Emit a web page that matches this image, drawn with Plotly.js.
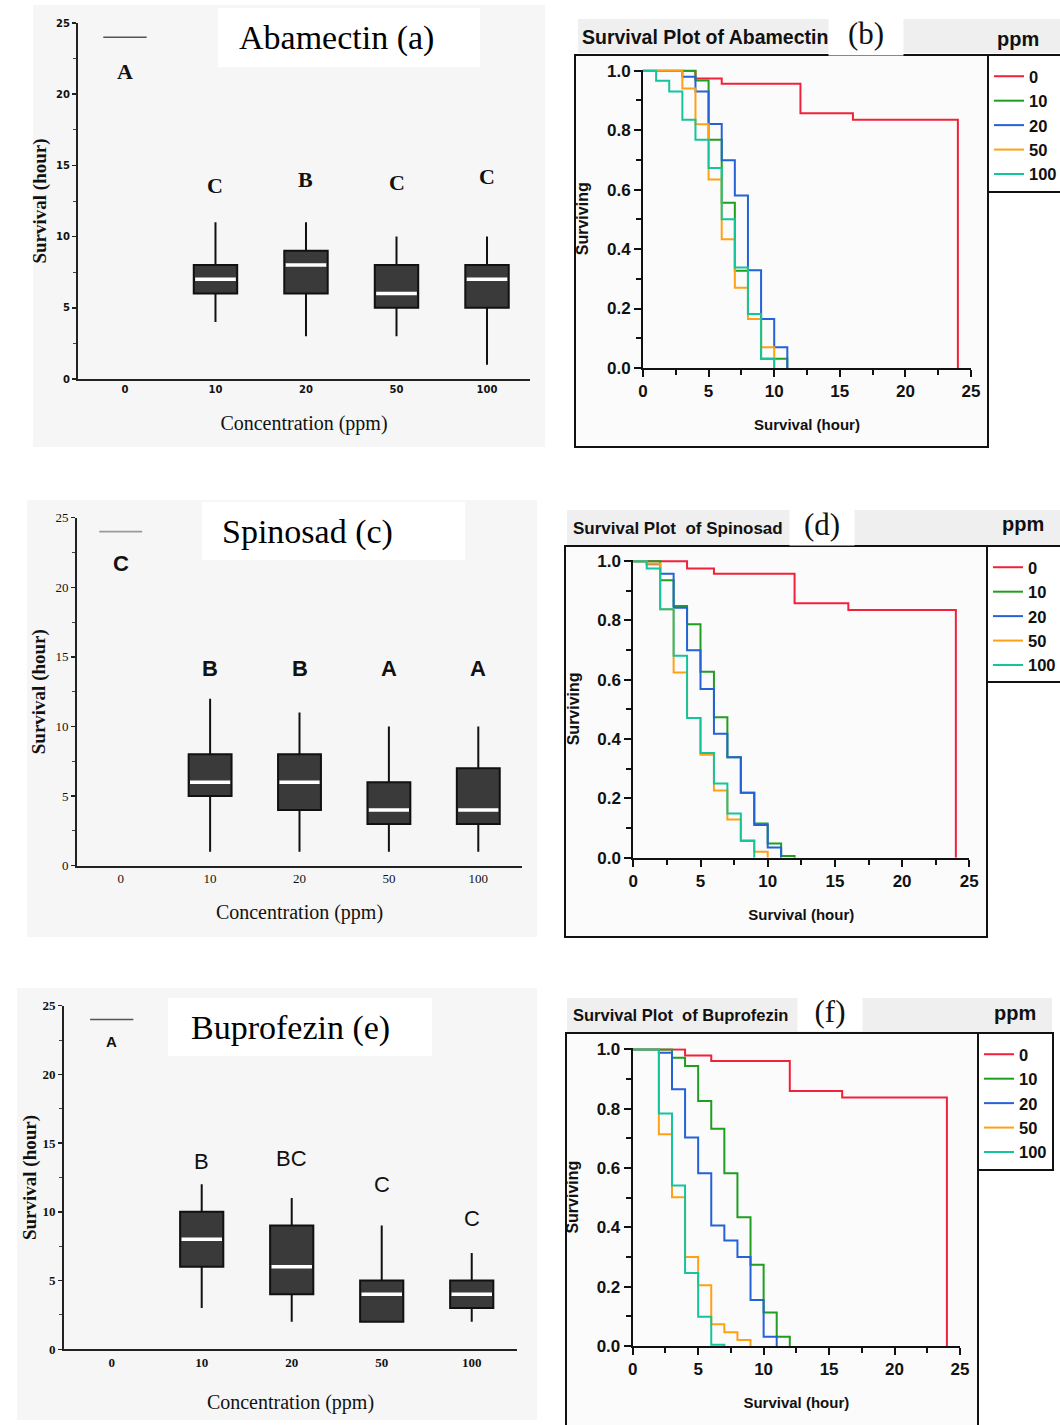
<!DOCTYPE html>
<html><head><meta charset="utf-8">
<script src="https://cdn.plot.ly/plotly-3.0.1.min.js"></script>
<style>html,body{margin:0;padding:0;background:#fff;overflow:hidden;} #chart{width:1060px;height:1425px;}</style>
</head><body><div id="chart"></div>
<script>
// ---------------- DATA ----------------
const concLabels = ['0', '10', '20', '50', '100'];
const concPos = [0, 1, 2, 3, 4];
const controlSurvival = 24;

// Abamectin box stats (treated groups 10, 20, 50, 100 ppm)
const abaLow  = [4, 3, 3, 1];
const abaQ1   = [6, 6, 5, 5];
const abaMed  = [7, 8, 6, 7];
const abaQ3   = [8, 9, 8, 8];
const abaHigh = [11, 11, 10, 10];
const abaLetters = ['A', 'C', 'B', 'C', 'C'];

// Spinosad box stats
const spiLow  = [1, 1, 1, 1];
const spiQ1   = [5, 4, 3, 3];
const spiMed  = [6, 6, 4, 4];
const spiQ3   = [8, 8, 6, 7];
const spiHigh = [12, 11, 10, 10];
const spiLetters = ['C', 'B', 'B', 'A', 'A'];

// Buprofezin box stats
const bupLow  = [3, 2, 2, 2];
const bupQ1   = [6, 4, 2, 3];
const bupMed  = [8, 6, 4, 4];
const bupQ3   = [10, 9, 5, 5];
const bupHigh = [12, 11, 9, 7];
const bupLetters = ['A', 'B', 'BC', 'C', 'C'];

// Survival (Kaplan-Meier) curves: step times and surviving fraction after each step
const abaT0   = [0, 4, 6, 12, 16, 24];
const abaS0   = [1, 0.974, 0.956, 0.857, 0.835, 0];
const abaT10  = [0, 4, 5, 6, 7, 8, 9, 11];
const abaS10  = [1, 0.967, 0.768, 0.556, 0.327, 0.182, 0.031, 0];
const abaT20  = [0, 3, 4, 5, 6, 7, 8, 9, 10, 11];
const abaS20  = [1, 0.98, 0.93, 0.821, 0.699, 0.58, 0.329, 0.165, 0.07, 0];
const abaT50  = [0, 3, 4, 5, 6, 7, 8, 9, 10];
const abaS50  = [1, 0.94, 0.82, 0.634, 0.433, 0.27, 0.165, 0.07, 0];
const abaT100 = [0, 1, 2, 3, 4, 5, 6, 7, 8, 9, 10];
const abaS100 = [1, 0.966, 0.93, 0.835, 0.768, 0.673, 0.5, 0.338, 0.182, 0.031, 0];

const spiT0   = [0, 4, 6, 12, 16, 24];
const spiS0   = [1, 0.975, 0.958, 0.858, 0.835, 0];
const spiT10  = [0, 2, 3, 4, 5, 6, 7, 8, 9, 10, 11, 12];
const spiS10  = [1, 0.936, 0.849, 0.787, 0.627, 0.474, 0.339, 0.219, 0.115, 0.048, 0.006, 0];
const spiT20  = [0, 1, 2, 3, 4, 5, 6, 7, 8, 9, 10, 11];
const spiS20  = [1, 0.99, 0.958, 0.843, 0.70, 0.569, 0.418, 0.339, 0.219, 0.11, 0.034, 0];
const spiT50  = [0, 1, 2, 3, 4, 5, 6, 7, 8, 9, 10];
const spiS50  = [1, 0.991, 0.838, 0.625, 0.471, 0.347, 0.227, 0.129, 0.059, 0.02, 0];
const spiT100 = [0, 1, 2, 3, 4, 5, 6, 7, 8, 9];
const spiS100 = [1, 0.975, 0.838, 0.681, 0.471, 0.353, 0.25, 0.149, 0.056, 0];

const bupT0   = [0, 4, 6, 12, 16, 24];
const bupS0   = [1, 0.98, 0.961, 0.86, 0.838, 0];
const bupT10  = [0, 3, 4, 5, 6, 7, 8, 9, 10, 11, 12];
const bupS10  = [1, 0.972, 0.944, 0.826, 0.733, 0.583, 0.434, 0.274, 0.113, 0.031, 0];
const bupT20  = [0, 2, 3, 4, 5, 6, 7, 8, 9, 10, 11];
const bupS20  = [1, 0.989, 0.866, 0.703, 0.583, 0.406, 0.356, 0.30, 0.155, 0.031, 0];
const bupT50  = [0, 2, 3, 4, 5, 6, 7, 8, 9];
const bupS50  = [1, 0.714, 0.502, 0.30, 0.205, 0.073, 0.046, 0.02, 0];
const bupT100 = [0, 2, 3, 4, 5, 6, 7];
const bupS100 = [1, 0.784, 0.541, 0.246, 0.099, 0.004, 0];

const seriesNames = ['0', '10', '20', '50', '100'];

// ---------------- STYLE / LAYOUT HELPERS ----------------
const W = 1060, H = 1425;
const px = v => v / W;
const py = v => 1 - v / H;
const SERIF = "'Liberation Serif', 'Times New Roman', serif";
const SANS = "'Liberation Sans', Arial, sans-serif";
const curveColors = ['#f2213b', '#1f9e1f', '#2462d8', '#ffa114', '#16c49c'];
const BOXW = 0.48;

const traces = [];
const shapes = [];
const annotations = [];
const layout = {
  width: W, height: H,
  margin: {l: 0, r: 0, t: 0, b: 0, autoexpand: false},
  paper_bgcolor: '#ffffff', plot_bgcolor: 'rgba(0,0,0,0)',
  showlegend: true, boxmode: 'overlay',
  font: {family: SANS, color: '#111'}
};

// ------------- box panels -------------
function boxPanel(cfg) {
  const xa = 'x' + (cfg.n === 1 ? '' : cfg.n), ya = 'y' + (cfg.n === 1 ? '' : cfg.n);
  const xk = 'xaxis' + (cfg.n === 1 ? '' : cfg.n), yk = 'yaxis' + (cfg.n === 1 ? '' : cfg.n);
  shapes.push({type: 'rect', xref: 'paper', yref: 'paper', layer: 'below',
    x0: px(cfg.bg[0]), x1: px(cfg.bg[1]), y0: py(cfg.bg[3]), y1: py(cfg.bg[2]),
    fillcolor: '#f6f6f6', line: {width: 0}});
  shapes.push({type: 'rect', xref: 'paper', yref: 'paper', layer: 'below',
    x0: px(cfg.tbox[0]), x1: px(cfg.tbox[1]), y0: py(cfg.tbox[3]), y1: py(cfg.tbox[2]),
    fillcolor: '#ffffff', line: {width: 0}});
  annotations.push({xref: 'paper', yref: 'paper', x: px(cfg.tpos[0]), y: py(cfg.tpos[1]),
    text: cfg.title, showarrow: false, xanchor: 'center', yanchor: 'middle',
    font: {family: SERIF, size: 34, color: '#000'}});

  const treated = concPos.slice(1);
  // control group (all insects survived 24 h)
  traces.push({type: 'box', xaxis: xa, yaxis: ya, x: [concPos[0]],
    q1: [controlSurvival], median: [controlSurvival], q3: [controlSurvival],
    lowerfence: [controlSurvival], upperfence: [controlSurvival],
    width: BOXW, whiskerwidth: 0, fillcolor: 'rgba(0,0,0,0)',
    line: {color: cfg.ctrlColor, width: 1.6}, boxpoints: false, showlegend: false, hoverinfo: 'skip'});
  traces.push({type: 'box', xaxis: xa, yaxis: ya, x: treated,
    q1: cfg.q1, median: cfg.med, q3: cfg.q3, lowerfence: cfg.low, upperfence: cfg.high,
    width: BOXW, whiskerwidth: 0, fillcolor: '#3a3a3a',
    line: {color: '#111', width: 2}, boxpoints: false, showlegend: false, hoverinfo: 'skip'});
  // white median marks
  const mx = [], my = [];
  treated.forEach((p, i) => {
    mx.push(p - BOXW / 2 + 0.015, p + BOXW / 2 - 0.015, null);
    my.push(cfg.med[i], cfg.med[i], null);
  });
  traces.push({type: 'scatter', mode: 'lines', xaxis: xa, yaxis: ya, x: mx, y: my,
    line: {color: '#ffffff', width: 3.5}, showlegend: false, hoverinfo: 'skip'});
  // significance letters
  cfg.letters.forEach((L, i) => {
    annotations.push({xref: xa, yref: ya, x: concPos[i], y: cfg.letterY[i], text: L,
      showarrow: false, font: i === 0 && cfg.ctrlFont ? cfg.ctrlFont : cfg.letterFont});
  });
  layout[xk] = {domain: [px(cfg.xpx[0]), px(cfg.xpx[1])], anchor: ya,
    range: cfg.xr, tickvals: concPos, ticktext: concLabels, showgrid: false, zeroline: false,
    showline: true, linecolor: '#222', linewidth: 2, ticks: '', ticklabelstandoff: 0,
    tickfont: cfg.tickFont, fixedrange: true,
    title: {text: 'Concentration (ppm)', font: {family: SERIF, size: 20, color: '#111'}, standoff: cfg.xtStand}};
  layout[yk] = {domain: [py(cfg.ypx[1]), py(cfg.ypx[0])], anchor: xa,
    range: [0, 25], dtick: 5, tick0: 0, showgrid: false, zeroline: false,
    showline: true, linecolor: '#222', linewidth: 2, ticks: 'outside', ticklen: 4, tickwidth: 1.5, tickcolor: '#222',
    minor: {dtick: 2.5, ticks: 'outside', ticklen: 3, tickwidth: 1, tickcolor: '#444'},
    tickfont: cfg.tickFont, fixedrange: true,
    title: {text: 'Survival (hour)', font: {family: SERIF, size: 19, color: '#111', weight: 'bold'}, standoff: cfg.ytStand}};
}

boxPanel({n: 1, title: 'Abamectin (a)', bg: [33, 545, 5, 447], tbox: [218, 480, 8, 67], tpos: [336, 38],
  xpx: [78, 530], ypx: [23, 379], xr: [-0.519, 4.475],
  q1: abaQ1, med: abaMed, q3: abaQ3, low: abaLow, high: abaHigh,
  letters: abaLetters, letterY: [21.6, 13.6, 14.0, 13.8, 14.2],
  letterFont: {family: SERIF, size: 22, color: '#111', weight: 'bold'}, ctrlColor: '#555',
  tickFont: {family: "Verdana, 'DejaVu Sans', sans-serif", size: 10, color: '#111', weight: 'bold'},
  xtStand: 22, ytStand: 4});

boxPanel({n: 3, title: 'Spinosad (c)', bg: [27, 537, 500, 937], tbox: [202, 465, 502, 560], tpos: [307, 532],
  xpx: [77, 522], ypx: [517.7, 865.7], xr: [-0.489, 4.489],
  q1: spiQ1, med: spiMed, q3: spiQ3, low: spiLow, high: spiHigh,
  letters: spiLetters, letterY: [21.7, 14.2, 14.2, 14.2, 14.2],
  letterFont: {family: SANS, size: 22, color: '#111', weight: 'bold'}, ctrlColor: '#999',
  tickFont: {family: SERIF, size: 13, color: '#111'},
  xtStand: 20, ytStand: 5});

boxPanel({n: 5, title: 'Buprofezin (e)', bg: [17, 537, 988, 1420], tbox: [168, 432, 998, 1056], tpos: [290, 1028],
  xpx: [64, 517], ypx: [1005.7, 1349.3], xr: [-0.53, 4.503],
  q1: bupQ1, med: bupMed, q3: bupQ3, low: bupLow, high: bupHigh,
  letters: bupLetters, letterY: [22.4, 13.65, 13.9, 12.0, 9.5],
  letterFont: {family: SANS, size: 22, color: '#111'}, ctrlFont: {family: SANS, size: 15, color: '#111', weight: 'bold'},
  ctrlColor: '#555',
  tickFont: {family: SERIF, size: 13, color: '#111', weight: 'bold'},
  xtStand: 26, ytStand: 1});

// ------------- survival panels -------------
function survPanel(cfg) {
  const xa = 'x' + cfg.n, ya = 'y' + cfg.n;
  const xk = 'xaxis' + cfg.n, yk = 'yaxis' + cfg.n;
  const lg = cfg.legend;
  shapes.push({type: 'rect', xref: 'paper', yref: 'paper', layer: 'below',
    x0: px(cfg.band[0]), x1: px(cfg.band[1]), y0: py(cfg.band[3]), y1: py(cfg.band[2]),
    fillcolor: '#efefef', line: {width: 0}});
  shapes.push({type: 'rect', xref: 'paper', yref: 'paper', layer: 'below',
    x0: px(cfg.frame[0]), x1: px(cfg.frame[1]), y0: py(cfg.frame[3]), y1: py(cfg.frame[2]),
    fillcolor: '#fbfbfb', line: {color: '#111', width: 2}});
  shapes.push({type: 'rect', xref: 'paper', yref: 'paper', layer: 'below',
    x0: px(cfg.lbox[0]), x1: px(cfg.lbox[1]), y0: py(cfg.lbox[3]), y1: py(cfg.lbox[2]),
    fillcolor: 'rgba(0,0,0,0)', line: {color: '#111', width: 2}});
  annotations.push({xref: 'paper', yref: 'paper', x: px(cfg.tpos[0]), y: py(cfg.tpos[1]),
    text: cfg.title, showarrow: false, xanchor: 'left', yanchor: 'middle',
    font: {family: SANS, size: cfg.tsize, color: '#111', weight: 'bold'}});
  annotations.push({xref: 'paper', yref: 'paper', x: px(cfg.ppos[0]), y: py(cfg.ppos[1]),
    text: 'ppm', showarrow: false, xanchor: 'center', yanchor: 'middle',
    font: {family: SANS, size: 20, color: '#111', weight: 'bold'}});
  annotations.push({xref: 'paper', yref: 'paper', x: px(cfg.lpos[0]), y: py(cfg.lpos[1]),
    text: cfg.label, showarrow: false, xanchor: 'center', yanchor: 'middle',
    bgcolor: '#ffffff', width: cfg.lw, height: cfg.lh,
    font: {family: SERIF, size: 31, color: '#111'}});

  cfg.times.forEach((t, i) => {
    traces.push({type: 'scatter', mode: 'lines', xaxis: xa, yaxis: ya,
      x: t, y: cfg.surv[i], name: seriesNames[i], legend: lg,
      line: {shape: 'hv', color: curveColors[i], width: 2}, hoverinfo: 'skip'});
  });
  const axFont = {family: SANS, size: 17, color: '#111', weight: 'bold'};
  layout[xk] = {domain: [px(cfg.xpx[0]), px(cfg.xpx[1])], anchor: ya, range: [0, 25],
    dtick: 5, tick0: 0, ticks: 'outside', ticklen: 7, tickwidth: 2, tickcolor: '#111',
    minor: {dtick: 2.5, ticks: 'outside', ticklen: 5, tickwidth: 2, tickcolor: '#111'},
    showline: true, linecolor: '#111', linewidth: 2, showgrid: false, zeroline: false,
    tickfont: axFont, fixedrange: true,
    title: {text: 'Survival (hour)', font: {family: SANS, size: 15, color: '#111', weight: 'bold'}, standoff: 19}};
  layout[yk] = {domain: [py(cfg.ypx[1]), py(cfg.ypx[0])], anchor: xa, range: [0, 1.004],
    tickvals: [0, 0.2, 0.4, 0.6, 0.8, 1.0], ticktext: ['0.0', '0.2', '0.4', '0.6', '0.8', '1.0'],
    ticks: 'outside', ticklen: 7, tickwidth: 2, tickcolor: '#111',
    minor: {tickvals: [0.1, 0.3, 0.5, 0.7, 0.9], ticks: 'outside', ticklen: 5, tickwidth: 2, tickcolor: '#111'},
    showline: true, linecolor: '#111', linewidth: 2, showgrid: false, zeroline: false,
    tickfont: axFont, fixedrange: true,
    title: {text: 'Surviving', font: {family: SANS, size: 16, color: '#111', weight: 'bold'}, standoff: 14}};
  layout[lg] = {x: px(cfg.lbox[0] + 1), y: py(cfg.lbox[2] + 4), xanchor: 'left', yanchor: 'top',
    bgcolor: 'rgba(0,0,0,0)', borderwidth: 0, itemwidth: 30, tracegroupgap: 0,
    font: {family: SANS, size: 16.5, color: '#111', weight: 'bold'}};
}

survPanel({n: 2, legend: 'legend', title: 'Survival Plot of Abamectin', label: '(b)', tsize: 19.5,
  band: [578, 1060, 19, 53], frame: [575, 988, 55, 447], lbox: [988, 1062, 55, 192],
  tpos: [580, 37], ppos: [1018, 39], lpos: [866, 33], lw: 72, lh: 42,
  xpx: [643, 971], ypx: [69.5, 368],
  times: [abaT0, abaT10, abaT20, abaT50, abaT100], surv: [abaS0, abaS10, abaS20, abaS50, abaS100]});

survPanel({n: 4, legend: 'legend2', title: 'Survival Plot  of Spinosad', label: '(d)', tsize: 17,
  band: [567, 1060, 510, 545], frame: [565, 987, 546, 937], lbox: [987, 1062, 546, 682],
  tpos: [571, 528], ppos: [1023, 524], lpos: [822, 524], lw: 62, lh: 40,
  xpx: [633.3, 969.3], ypx: [560, 857.7],
  times: [spiT0, spiT10, spiT20, spiT50, spiT100], surv: [spiS0, spiS10, spiS20, spiS50, spiS100]});

survPanel({n: 6, legend: 'legend3', title: 'Survival Plot  of Buprofezin', label: '(f)', tsize: 16.5,
  band: [567, 1052, 998, 1032], frame: [566, 978, 1033, 1440], lbox: [978, 1053, 1033, 1170],
  tpos: [571, 1015], ppos: [1015, 1013], lpos: [830, 1011], lw: 62, lh: 38,
  xpx: [632.7, 960], ypx: [1048.3, 1346],
  times: [bupT0, bupT10, bupT20, bupT50, bupT100], surv: [bupS0, bupS10, bupS20, bupS50, bupS100]});

layout.shapes = shapes;
layout.annotations = annotations;
Plotly.newPlot('chart', traces, layout, {displayModeBar: false, staticPlot: true});
</script>
</body></html>
